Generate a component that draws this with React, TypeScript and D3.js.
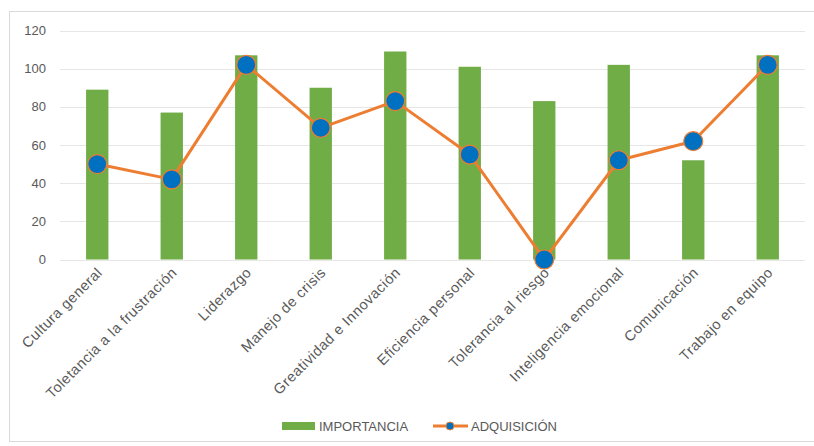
import React from "react";
import * as d3 from "d3";

const categories = [
  "Cultura general",
  "Toletancia a la frustración",
  "Liderazgo",
  "Manejo de crisis",
  "Greatividad e Innovación",
  "Eficiencia personal",
  "Tolerancia al riesgo",
  "Inteligencia emocional",
  "Comunicación",
  "Trabajo en equipo",
];
const importancia = [89, 77, 107, 90, 109, 101, 83, 102, 52, 107];
const adquisicion = [50, 42, 102, 69, 83, 55, 0, 52, 62, 102];
const yTicks = [0, 20, 40, 60, 80, 100, 120];
const seriesNames = ["IMPORTANCIA", "ADQUISICIÓN"];

const W = 814;
const H = 446;
const FONT = "'Liberation Sans', Arial, sans-serif";
const GREEN = "#70AD47";
const ORANGE = "#ED7D31";
const BLUE = "#0070C0";
const TEXT = "#595959";

export default function App() {
  const x = d3.scaleBand<string>().domain(categories).range([60, 805]).paddingInner(0.7).paddingOuter(0.35);
  const y = d3.scaleLinear().domain([0, 120]).range([259.5, 30.5]);
  const cx = (c: string) => (x(c) as number) + x.bandwidth() / 2;
  const line = d3
    .line<number>()
    .x((_, i) => cx(categories[i]))
    .y((d) => y(d));

  return (
    <svg width={W} height={H} style={{ position: "absolute", left: 0, top: 0, background: "#fff" }} fontFamily={FONT}>
      <rect x={9.5} y={11.5} width={820} height={430} fill="#fff" stroke="#d9d9d9" strokeWidth={1} />
      {yTicks.map((t) => (
        <g key={t}>
          <line x1={60} x2={805} y1={Math.round(y(t)) + 0.5} y2={Math.round(y(t)) + 0.5} stroke="#e6e6e6" strokeWidth={1} />
          <text x={46} y={y(t)} dy="0.35em" textAnchor="end" fontSize={13} fill={TEXT}>
            {t}
          </text>
        </g>
      ))}
      {categories.map((c, i) => (
        <rect key={c} x={x(c)} y={y(importancia[i])} width={x.bandwidth()} height={y(0) - y(importancia[i])} fill={GREEN} />
      ))}
      <path d={line(adquisicion) || ""} fill="none" stroke={ORANGE} strokeWidth={3} strokeLinejoin="round" />
      {categories.map((c, i) => (
        <circle key={c} cx={cx(c)} cy={y(adquisicion[i])} r={9.5} fill={BLUE} stroke={ORANGE} strokeWidth={1.2} />
      ))}
      {categories.map((c) => (
        <text
          key={c}
          transform={`translate(${cx(c) + 6},${y(0) + 14}) rotate(-45)`}
          textAnchor="end"
          fontSize={14.5}
          letterSpacing={0.5}
          fill={TEXT}
        >
          {c}
        </text>
      ))}
      <g>
        <rect x={282} y={422} width={33} height={8} fill={GREEN} />
        <text x={319} y={426} dy="0.35em" fontSize={13} fill={TEXT}>
          {seriesNames[0]}
        </text>
        <line x1={433} x2={468} y1={426} y2={426} stroke={ORANGE} strokeWidth={3} />
        <circle cx={450} cy={426} r={4} fill={BLUE} stroke={ORANGE} strokeWidth={1} />
        <text x={471} y={426} dy="0.35em" fontSize={13} fill={TEXT}>
          {seriesNames[1]}
        </text>
      </g>
    </svg>
  );
}
